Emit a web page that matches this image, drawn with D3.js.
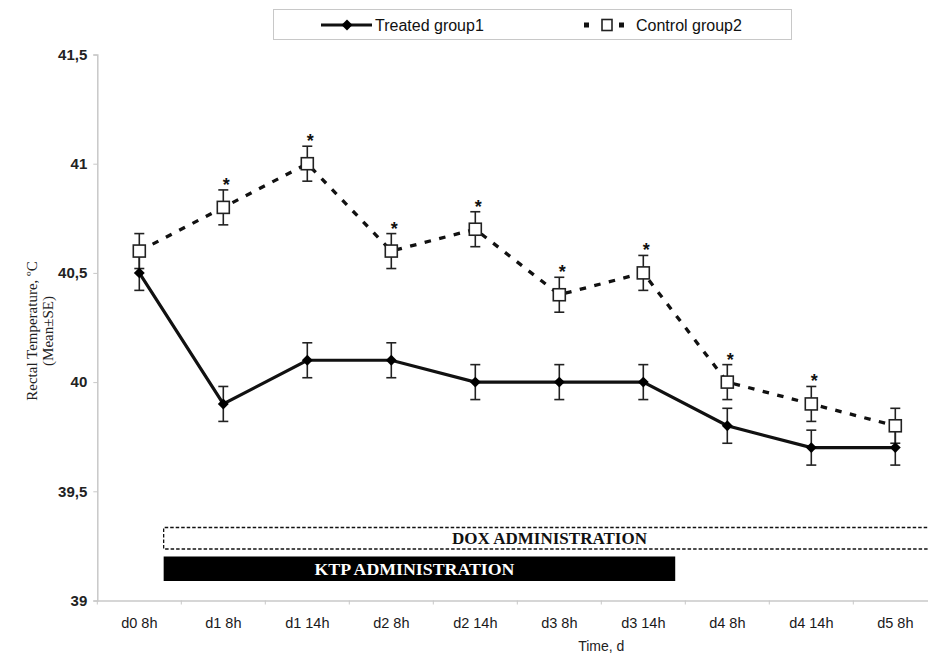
<!DOCTYPE html>
<html>
<head>
<meta charset="utf-8">
<script src="https://cdn.jsdelivr.net/npm/d3@7"></script>
<style>
  html, body { margin: 0; padding: 0; background: #fff; overflow: hidden; }
  svg { display: block; }
</style>
</head>
<body>
<svg id="chart" width="928" height="653"></svg>
<script>
// Time points
const categories = ["d0 8h", "d1 8h", "d1 14h", "d2 8h", "d2 14h", "d3 8h", "d3 14h", "d4 8h", "d4 14h", "d5 8h"];
// Rectal temperature means (°C)
const treatedValues = [40.5, 39.9, 40.1, 40.1, 40.0, 40.0, 40.0, 39.8, 39.7, 39.7];
const controlValues = [40.6, 40.8, 41.0, 40.6, 40.7, 40.4, 40.5, 40.0, 39.9, 39.8];
// Standard errors
const treatedSE = [0.08, 0.08, 0.08, 0.08, 0.08, 0.08, 0.08, 0.08, 0.08, 0.08];
const controlSE = [0.08, 0.08, 0.08, 0.08, 0.08, 0.08, 0.08, 0.08, 0.08, 0.08];
// Significance marks on the control series
const significant = [false, true, true, true, true, true, true, true, true, false];
// Y axis ticks and their labels
const yTicks = [39, 39.5, 40, 40.5, 41, 41.5];
const yTickLabels = ["39", "39,5", "40", "40,5", "41", "41,5"];
// Treatment periods (in category index units along the time axis)
const periods = [
  { name: "DOX ADMINISTRATION", start: 0.79, end: 10.6 },
  { name: "KTP ADMINISTRATION", start: 0.79, end: 6.88 }
];

const svg = d3.select("#chart");
const mLeft = 97.3, mRight = 937.3, mTop = 54.5, mBottom = 600.5;

const x = d3.scaleBand().domain(categories).range([mLeft, mRight]);
const xc = d => x(d) + x.bandwidth() / 2;
const xi = d3.scaleLinear().domain([0, categories.length]).range([mLeft, mRight]);
const y = d3.scaleLinear().domain([39, 41.5]).range([mBottom, mTop]);

const sans = "Liberation Sans, Arial, sans-serif";
const serif = "Liberation Serif, Times New Roman, serif";

// Y axis
const yAxis = svg.append("g")
  .attr("transform", `translate(${mLeft},0)`)
  .call(d3.axisLeft(y).tickValues(yTicks).tickFormat((d, i) => yTickLabels[i]).tickSize(4).tickPadding(6));
yAxis.select(".domain").attr("stroke", "#c8c8c8").attr("stroke-width", 1.5);
yAxis.selectAll(".tick line").attr("stroke", "#c8c8c8");
yAxis.selectAll("text").attr("font-family", sans)
  .attr("font-size", 15).attr("font-weight", "bold").attr("fill", "#222");

// X axis
const xAxis = svg.append("g")
  .attr("transform", `translate(0,${mBottom})`)
  .call(d3.axisBottom(x).tickSize(0).tickPadding(17));
xAxis.select(".domain").attr("stroke", "#c8c8c8").attr("stroke-width", 1.5);
xAxis.selectAll("text").attr("font-family", sans)
  .attr("font-size", 14.5).attr("fill", "#1a1a1a");
// tick marks at category boundaries
svg.append("g").selectAll("line")
  .data(d3.range(categories.length + 1))
  .join("line")
  .attr("x1", d => xi(d)).attr("x2", d => xi(d))
  .attr("y1", mBottom).attr("y2", mBottom + 4)
  .attr("stroke", "#c8c8c8");

// Axis titles
svg.append("text")
  .attr("x", xi(6)).attr("y", 651)
  .attr("text-anchor", "middle")
  .attr("font-family", sans)
  .attr("font-size", 14).attr("fill", "#222")
  .text("Time, d");

const yTitle = svg.append("text")
  .attr("transform", "translate(37,331) rotate(-90)")
  .attr("text-anchor", "middle")
  .attr("font-family", serif)
  .attr("font-size", 15).attr("fill", "#222");
yTitle.append("tspan").attr("x", 0).attr("dy", 0).text("Rectal Temperature, ºC");
yTitle.append("tspan").attr("x", 0).attr("dy", 16).text("(Mean±SE)");

// Administration bars
const dox = periods[0], ktp = periods[1];
svg.append("path")
  .attr("d", `M${xi(dox.end)},527.5 H${xi(dox.start)} V549 H${xi(dox.end)}`)
  .attr("fill", "none").attr("stroke", "#111").attr("stroke-width", 1.3)
  .attr("stroke-dasharray", "3.5,2");
svg.append("text")
  .attr("x", 549.5).attr("y", 543.5)
  .attr("text-anchor", "middle")
  .attr("font-family", serif)
  .attr("font-size", 17).attr("font-weight", "bold").attr("fill", "#111")
  .attr("textLength", 195).attr("lengthAdjust", "spacingAndGlyphs")
  .text(dox.name);

svg.append("rect")
  .attr("x", xi(ktp.start)).attr("y", 556.5)
  .attr("width", xi(ktp.end) - xi(ktp.start)).attr("height", 24.5)
  .attr("fill", "#000");
svg.append("text")
  .attr("x", (xi(ktp.start) + xi(ktp.end)) / 2 - 5).attr("y", 574.5)
  .attr("text-anchor", "middle")
  .attr("font-family", serif)
  .attr("font-size", 17).attr("font-weight", "bold").attr("fill", "#fff")
  .attr("textLength", 200).attr("lengthAdjust", "spacingAndGlyphs")
  .text(ktp.name);

// Series lines
const line = d3.line().x((d, i) => xc(categories[i])).y(d => y(d));
svg.append("path").datum(controlValues)
  .attr("d", line).attr("fill", "none").attr("stroke", "#111")
  .attr("stroke-width", 3.3).attr("stroke-dasharray", "6.5,8.5");
svg.append("path").datum(treatedValues)
  .attr("d", line).attr("fill", "none").attr("stroke", "#111")
  .attr("stroke-width", 3.2);

// Error bars
function errorBars(values, se) {
  const g = svg.append("g").attr("stroke", "#222").attr("stroke-width", 1.6);
  values.forEach((v, i) => {
    const cx = xc(categories[i]);
    g.append("line").attr("x1", cx).attr("x2", cx).attr("y1", y(v + se[i])).attr("y2", y(v - se[i]));
    g.append("line").attr("x1", cx - 5).attr("x2", cx + 5).attr("y1", y(v + se[i])).attr("y2", y(v + se[i]));
    g.append("line").attr("x1", cx - 5).attr("x2", cx + 5).attr("y1", y(v - se[i])).attr("y2", y(v - se[i]));
  });
}
errorBars(controlValues, controlSE);
errorBars(treatedValues, treatedSE);

// Markers
svg.append("g").selectAll("rect")
  .data(controlValues)
  .join("rect")
  .attr("x", (d, i) => xc(categories[i]) - 6).attr("y", d => y(d) - 6)
  .attr("width", 12).attr("height", 12)
  .attr("fill", "#fff").attr("stroke", "#222").attr("stroke-width", 1.6);

const diamond = d3.symbol().type(d3.symbolDiamond2).size(76);
svg.append("g").selectAll("path")
  .data(treatedValues)
  .join("path")
  .attr("d", diamond)
  .attr("transform", (d, i) => `translate(${xc(categories[i])},${y(d)})`)
  .attr("fill", "#000");

// Significance asterisks
svg.append("g").selectAll("text")
  .data(controlValues.map((v, i) => ({ v, i })).filter(d => significant[d.i]))
  .join("text")
  .attr("x", d => xc(categories[d.i]) + 3)
  .attr("y", d => y(d.v + controlSE[d.i]) + 1)
  .attr("text-anchor", "middle")
  .attr("font-family", sans)
  .attr("font-size", 18).attr("font-weight", "bold").attr("fill", "#111")
  .text("*");

// Legend
const legend = svg.append("g");
legend.append("rect")
  .attr("x", 273.5).attr("y", 9.5).attr("width", 518).attr("height", 30)
  .attr("fill", "#fff").attr("stroke", "#c8c8c8");
legend.append("line").attr("x1", 321).attr("x2", 372).attr("y1", 25).attr("y2", 25)
  .attr("stroke", "#111").attr("stroke-width", 3);
legend.append("path").attr("d", diamond).attr("transform", "translate(347,25)").attr("fill", "#000");
legend.append("text").attr("x", 375).attr("y", 31)
  .attr("font-family", sans).attr("font-size", 16).attr("fill", "#111")
  .text("Treated group1");
legend.append("rect").attr("x", 584).attr("y", 22.5).attr("width", 5).attr("height", 5).attr("fill", "#111");
legend.append("rect").attr("x", 619).attr("y", 22.5).attr("width", 5).attr("height", 5).attr("fill", "#111");
legend.append("rect").attr("x", 602).attr("y", 19.5).attr("width", 10).attr("height", 11)
  .attr("fill", "#fff").attr("stroke", "#222").attr("stroke-width", 1.6);
legend.append("text").attr("x", 636).attr("y", 31)
  .attr("font-family", sans).attr("font-size", 16).attr("fill", "#111")
  .text("Control group2");
</script>
</body>
</html>
